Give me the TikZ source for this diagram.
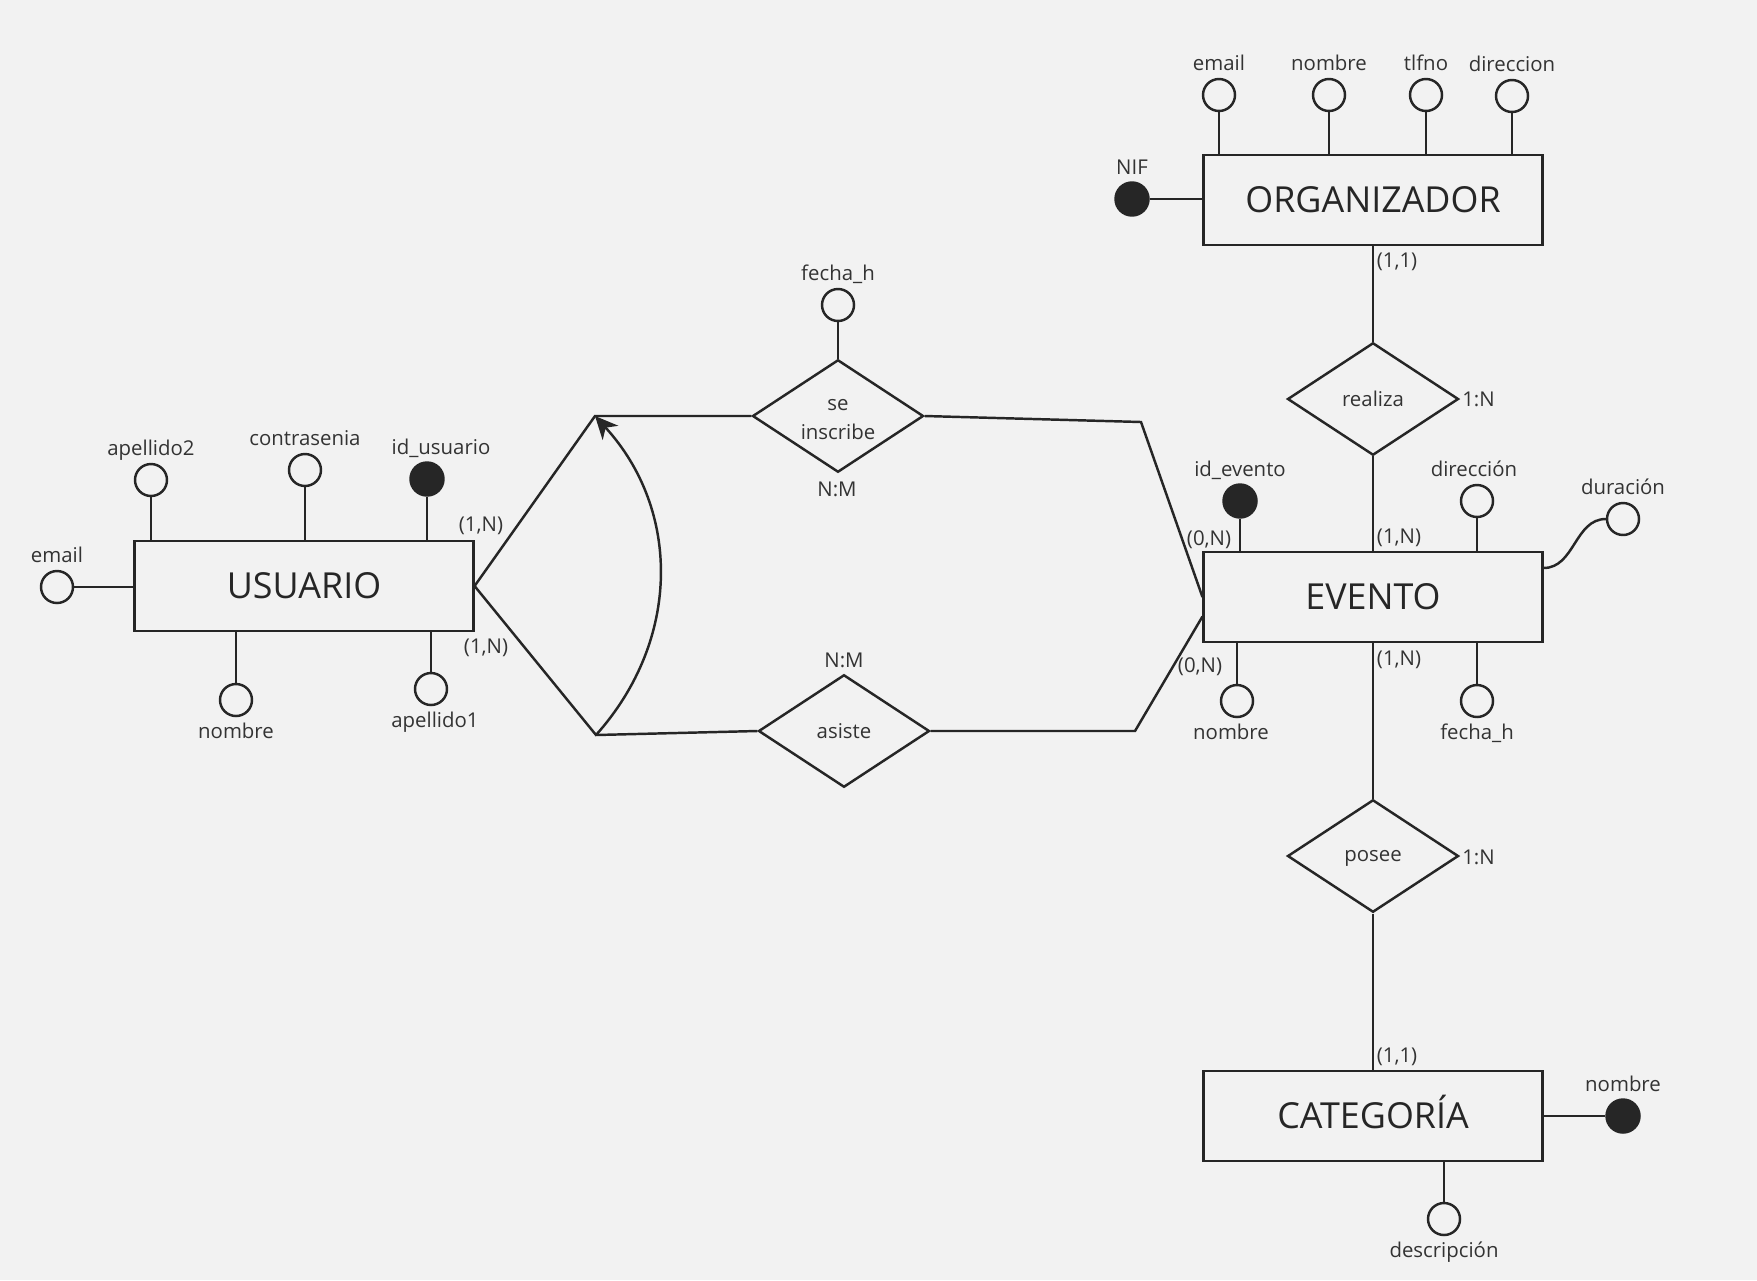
\documentclass[tikz,border=0pt]{standalone}
\usepackage{fontspec}
\setmainfont{Open Sans}
\usetikzlibrary{shapes.geometric,arrows.meta}
\definecolor{fondo}{HTML}{F2F2F2}
\definecolor{trazo}{HTML}{262626}
\definecolor{texto}{HTML}{333333}

\begin{document}
\begin{tikzpicture}[
				x=0.1mm, y=-0.1mm,
				>={Stealth[length=6.5pt,width=6pt,inset=2pt]},
				color=trazo,
				line width=0.7pt,
				entity/.style={
					rectangle,
					draw,
					line width=0.75pt,
					minimum width=33.85mm,
					minimum height=8.97mm,
					inner sep=0pt,
					text height=7.3pt,
					text depth=0pt,
					font=\fontsize{10.2}{12}\selectfont
				},
				relation/.style={
					diamond,
					draw,
					aspect=1.52,
					minimum width=17.1mm,
					minimum height=11.25mm,
					inner sep=0pt,
					align=center,
					text=texto,
					font=\fontsize{5.8}{8.3}\selectfont
				},
				attr/.style={
					circle,
					draw,
					minimum size=3.2mm,
					inner sep=0pt
				},
				keyattr/.style={
					attr,
					fill=trazo,
					minimum size=3.3mm
				},
				lbl/.style={
					inner sep=0pt,
					text height=4.4pt,
					text depth=1.4pt,
					label distance=1.2pt,
					text=texto,
					font=\fontsize{5.8}{7}\selectfont
				},
				lblup/.style={
					lbl,
					label distance=0.2pt
				},
				card/.style={
					inner sep=0pt,
					text=texto,
					font=\fontsize{5.8}{7}\selectfont
				}
				]
				
				\fill[fondo] (0,0) rectangle (1757,1280);
				
				% -------------------------------------------------------------------------
				% Entities and relations
				% -------------------------------------------------------------------------
				
				\node[entity] (usuario) at (304,586) {USUARIO};
				\node[entity] (organizador) at (1373,200) {ORGANIZADOR};
				\node[entity] (evento) at (1373,597) {EVENTO};
				\node[entity] (categoria) at (1373,1116) {CATEGORÍA};
				
				\node[relation,label={[align=center,text=texto,inner sep=0pt,
					font=\fontsize{5.8}{8.3}\selectfont,yshift=-1pt]center:se\\inscribe}]
				(inscribe) at (838,416) {};
				\node[relation] (asiste) at (844,731) {asiste};
				\node[relation] (realiza) at (1373,399) {realiza};
				\node[relation] (posee) at (1373,856) {\vphantom{l}posee};
				
				% -------------------------------------------------------------------------
				% Attributes
				% -------------------------------------------------------------------------
				
				\node[attr,label={[lblup]above:email}] (uemail) at (57,587) {};
				\node[attr,label={[lblup]above:apellido2}] (uape2) at (151,480) {};
				\node[attr,label={[lblup]above:contrasenia}] (ucontra) at (305,470) {};
				\node[keyattr,label={[lblup,xshift=1.4mm]above:id\_usuario}] (uid) at (427,479) {};
				\node[attr,label={[lbl]below:nombre}] (unombre) at (236,700) {};
				\node[attr,label={[lbl,xshift=0.4mm]below:apellido1}] (uape1) at (431,689) {};
				
				\node[attr,label={[lblup]above:email}] (oemail) at (1219,95) {};
				\node[attr,label={[lblup]above:nombre}] (onombre) at (1329,95) {};
				\node[attr,label={[lblup]above:tlfno}] (otlfno) at (1426,95) {};
				\node[attr,label={[lblup]above:direccion}] (odir) at (1512,96) {};
				\node[keyattr,label={[lblup]above:NIF}] (onif) at (1132,199) {};
				
				\node[keyattr,label={[lblup]above:id\_evento}] (eid) at (1240,501) {};
				\node[attr,label={[lblup,xshift=-0.3mm]above:dirección}] (edir) at (1477,501) {};
				\node[attr,label={[lblup]above:duración}] (edur) at (1623,519) {};
				\node[attr,label={[lbl,xshift=-0.6mm]below:nombre}] (enombre) at (1237,701) {};
				\node[attr,label={[lbl]below:fecha\_h}] (efecha) at (1477,701) {};
				
				\node[keyattr,label={[lblup]above:nombre}] (cnombre) at (1623,1116) {};
				\node[attr,label={[lbl]below:descripción}] (cdesc) at (1444,1219) {};
				
				\node[attr,label={[lblup]above:fecha\_h}] (ifecha) at (838,305) {};
				
				% -------------------------------------------------------------------------
				% Attribute links
				% -------------------------------------------------------------------------
				
				\draw (uemail) -- (uemail -| usuario.west);
				\draw (uape2) -- (uape2 |- usuario.north);
				\draw (ucontra) -- (ucontra |- usuario.north);
				\draw (uid) -- (uid |- usuario.north);
				\draw (unombre) -- (unombre |- usuario.south);
				\draw (uape1) -- (uape1 |- usuario.south);
				
				\draw (oemail) -- (oemail |- organizador.north);
				\draw (onombre) -- (onombre |- organizador.north);
				\draw (otlfno) -- (otlfno |- organizador.north);
				\draw (odir) -- (odir |- organizador.north);
				\draw (onif) -- (onif -| organizador.west);
				
				\draw (eid) -- (eid |- evento.north);
				\draw (edir) -- (edir |- evento.north);
				\draw ([yshift=2.9mm]evento.east) to[out=0,in=180] (edur);
				\draw (enombre) -- (enombre |- evento.south);
				\draw (efecha) -- (efecha |- evento.south);
				
				\draw (cnombre) -- (cnombre -| categoria.east);
				\draw (cdesc) -- (cdesc |- categoria.south);
				
				\draw (ifecha) -- (inscribe);
				
				% -------------------------------------------------------------------------
				% Relation links
				% -------------------------------------------------------------------------
				
				\coordinate (jtop) at (595,416);
				\coordinate (jbot) at (596,735);
				\coordinate (rtop) at (1141,422);
				\coordinate (rbot) at (1135,731);
				
				\draw (usuario.east) -- (jtop) -- (inscribe.west);
				\draw (usuario.east) -- (jbot) -- (asiste.west);
				\draw (inscribe.east) -- (rtop) -- (evento.west);
				\draw (asiste.east) -- (rbot) -- ([yshift=-1.95mm]evento.west);
				\draw[->] (jbot) .. controls (681,640) and (681,510) .. (jtop);
				
				\draw (organizador) -- (realiza);
				\draw (realiza) -- (evento);
				\draw (evento) -- (posee);
				\draw (posee) -- (categoria);
				
				% -------------------------------------------------------------------------
				% Cardinalities
				% -------------------------------------------------------------------------
				
				\node[card] (c1) at (481,526) {(1,N)};
				\node[card] (c2) at (486,648) {(1,N)};
				\node[card] (c3) at (837,489) {N:M};
				\node[card] (c4) at (844,660) {N:M};
				\node[card] (c5) at (1209,540) {(0,N)};
				\node[card] (c6) at (1200,667) {(0,N)};
				\node[card] (c7) at (1399,538) {(1,N)};
				\node[card] (c8) at (1399,660) {(1,N)};
				\node[card] (c9) at (1397,262) {(1,1)};
				\node[card] (c10) at (1397,1057) {(1,1)};
				\node[card,anchor=west] (c11) at (1461,399) {1:N};
				\node[card,anchor=west] (c12) at (1461,857) {1:N};
				
\end{tikzpicture}
\end{document}
